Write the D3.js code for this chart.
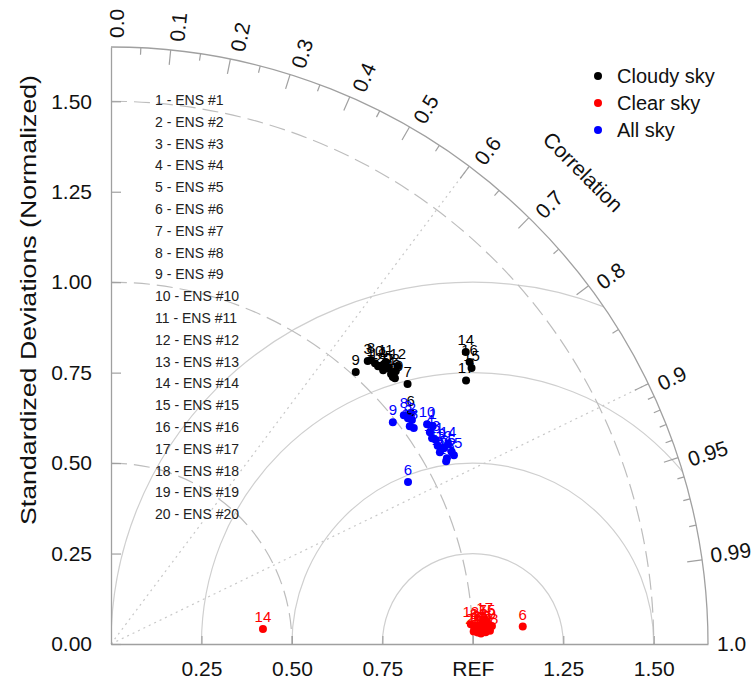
<!DOCTYPE html>
<html>
<head>
<meta charset="utf-8">
<script src="https://cdn.jsdelivr.net/npm/d3@7"></script>
<style>
  body { margin: 0; background: #fff; }
  text { font-family: "Liberation Sans", Arial, Helvetica, sans-serif; }
</style>
</head>
<body>
<svg id="chart" width="756" height="683"></svg>
<script>
// ---- data ----
var ensNumbers = d3.range(1, 21);
var ensNames = ensNumbers.map(function(n) { return n + " - ENS #" + n; });

var cloudyStd  = [1.080, 1.090, 1.056, 1.075, 1.082, 1.046, 1.090, 1.064, 1.011, 1.065,
                  1.088, 1.104, 1.073, 1.270, 1.255, 1.261, 1.222, 1.065, 1.075, 1.067];
var cloudyCorr = [0.698, 0.722, 0.672, 0.720, 0.710, 0.792, 0.752, 0.675, 0.669, 0.685,
                  0.698, 0.718, 0.726, 0.772, 0.794, 0.786, 0.803, 0.693, 0.730, 0.705];

var clearStd   = [1.009, 1.020, 1.032, 1.014, 1.042, 1.139, 1.029, 1.004, 1.054, 1.026,
                  1.036, 0.996, 1.018, 0.422, 1.041, 1.009, 1.035, 1.048, 1.023, 1.003];
var clearCorr  = [0.9990, 0.9993, 0.9988, 0.9995, 0.9991, 0.9991, 0.9983, 0.9988, 0.9989, 0.9991,
                  0.9995, 0.9985, 0.9988, 0.9952, 0.9983, 0.9993, 0.9979, 0.9994, 0.9996, 0.9994];

var allStd     = [1.074, 1.037, 1.031, 1.058, 1.081, 0.935, 1.028, 1.027, 0.991, 1.064,
                  1.060, 1.067, 1.054, 1.083, 1.082, 1.052, 1.061, 1.022, 1.056, 1.055];
var allCorr    = [0.828, 0.802, 0.796, 0.833, 0.871, 0.878, 0.814, 0.788, 0.786, 0.821,
                  0.847, 0.862, 0.842, 0.860, 0.876, 0.864, 0.875, 0.808, 0.855, 0.878];

var groupNames  = ["Cloudy sky", "Clear sky", "All sky"];
var groupColors = ["#000000", "#ff0000", "#0000ff"];
var groupStd    = [cloudyStd, clearStd, allStd];
var groupCorr   = [cloudyCorr, clearCorr, allCorr];

var stdTicks       = [0, 0.25, 0.5, 0.75, 1.0, 1.25, 1.5];
var stdAxisTicks   = [0.25, 0.5, 0.75, 1.0, 1.25, 1.5];
var corrMajor      = [0.1, 0.2, 0.3, 0.4, 0.5, 0.6, 0.7, 0.8, 0.9, 0.95, 0.99];
var corrMinor      = [0.05, 0.15, 0.25, 0.35, 0.45, 0.55, 0.65, 0.75, 0.85,
                      0.91, 0.92, 0.93, 0.94, 0.96, 0.97, 0.98];
var corrLabelVals  = [0.0, 0.1, 0.2, 0.3, 0.4, 0.5, 0.6, 0.7, 0.8, 0.9, 0.95, 0.99, 1.0];
var corrLabelTexts = ["0.0", "0.1", "0.2", "0.3", "0.4", "0.5", "0.6", "0.7", "0.8", "0.9", "0.95", "0.99", "1.0"];
var stdDashed      = [0.5, 1.0, 1.5];
var rmsCircles     = [0.25, 0.5, 0.75, 1.0];
var corrRays       = [0.6, 0.9];
var refStd = 1.0, maxStd = 1.65;

// ---- geometry ----
var ox = 111, oy = 644, R = 597;
var svg = d3.select("#chart");
var rad = d3.scaleLinear().domain([0, maxStd]).range([0, R]);
var xS = d3.scaleLinear().domain([0, maxStd]).range([ox, ox + R]);
var yS = d3.scaleLinear().domain([0, maxStd]).range([oy, oy - R]);

function pos(std, cc) {
  var th = Math.acos(cc);
  return [xS(std * Math.cos(th)), yS(std * Math.sin(th))];
}

function quarter(r) {
  var p = d3.path();
  p.moveTo(ox, oy - r);
  p.arc(ox, oy, r, -Math.PI / 2, 0);
  return p.toString();
}

svg.append("clipPath").attr("id", "quad")
  .append("path")
  .attr("d", function() {
    var p = d3.path();
    p.moveTo(ox, oy);
    p.lineTo(ox, oy - R);
    p.arc(ox, oy, R, -Math.PI / 2, 0);
    p.closePath();
    return p.toString();
  });

// rms circles round REF
svg.append("g").attr("clip-path", "url(#quad)")
  .selectAll("circle").data(rmsCircles).enter().append("circle")
  .attr("cx", xS(refStd)).attr("cy", oy)
  .attr("r", function(d) { return rad(d); })
  .attr("fill", "none").attr("stroke", "#cfcfcf").attr("stroke-width", 1.2);

// dashed std circles
svg.append("g").selectAll("path").data(stdDashed).enter().append("path")
  .attr("d", function(d) { return quarter(rad(d)); })
  .attr("fill", "none").attr("stroke", "#bdbdbd").attr("stroke-width", 1.2)
  .attr("stroke-dasharray", "16,7");

// dotted correlation rays
svg.append("g").selectAll("line").data(corrRays).enter().append("line")
  .attr("x1", ox).attr("y1", oy)
  .attr("x2", function(d) { return pos(maxStd, d)[0]; })
  .attr("y2", function(d) { return pos(maxStd, d)[1]; })
  .attr("stroke", "#c8c8c8").attr("stroke-width", 1.2)
  .attr("stroke-dasharray", "2,4");

// outer arc
svg.append("path").attr("d", quarter(R))
  .attr("fill", "none").attr("stroke", "#a0a0a0").attr("stroke-width", 1.3);

// correlation ticks
function ticks(vals, len) {
  svg.append("g").selectAll("line").data(vals).enter().append("line")
    .attr("x1", function(d) { return pos(maxStd, d)[0]; })
    .attr("y1", function(d) { return pos(maxStd, d)[1]; })
    .attr("x2", function(d) { return pos(maxStd - len / R * maxStd, d)[0]; })
    .attr("y2", function(d) { return pos(maxStd - len / R * maxStd, d)[1]; })
    .attr("stroke", "#a0a0a0").attr("stroke-width", 1.2);
}
ticks(corrMajor, 15);
ticks(corrMinor, 7);

// correlation labels (the last two sit closer to the ray)
svg.append("g").selectAll("text").data(corrLabelVals).enter().append("text")
  .attr("transform", function(d) {
    var p = pos(maxStd + 9 / R * maxStd, d);
    var ang = Math.acos(d) * 180 / Math.PI;
    return "translate(" + p[0] + "," + p[1] + ") rotate(" + (-ang) + ")";
  })
  .attr("dy", function(d) { return d >= 0.99 ? (d === 1 ? "0.35em" : "0.2em") : "0.6em"; })
  .attr("font-size", 21).attr("fill", "#111")
  .text(function(d, i) { return corrLabelTexts[i]; });

svg.append("text")
  .attr("transform", function() {
    var p = pos(1.845, Math.cos(Math.PI / 4));
    return "translate(" + p[0] + "," + p[1] + ") rotate(45)";
  })
  .attr("text-anchor", "middle").attr("dy", "0.35em")
  .attr("font-size", 21).attr("fill", "#111")
  .text("Correlation");

// std axes
var yAxis = d3.axisLeft(yS).tickValues(stdTicks).tickSize(-10).tickSizeOuter(0)
  .tickPadding(19).tickFormat(d3.format(".2f"));
var gy = svg.append("g").attr("transform", "translate(" + ox + ",0)").call(yAxis);

var xAxis = d3.axisBottom(xS).tickValues(stdAxisTicks).tickSize(-8).tickSizeOuter(0)
  .tickPadding(17)
  .tickFormat(function(d) { return d === refStd ? "REF" : d3.format(".2f")(d); });
var gx = svg.append("g").attr("transform", "translate(0," + oy + ")").call(xAxis);

[gx, gy].forEach(function(g) {
  g.select(".domain").attr("stroke", "#a0a0a0").attr("stroke-width", 1.3);
  g.selectAll(".tick line").attr("stroke", "#a0a0a0").attr("stroke-width", 1.2);
  g.selectAll(".tick text").attr("font-size", 21).attr("fill", "#111")
    .style("font-family", "'Liberation Sans', Arial, sans-serif");
});

svg.append("text")
  .attr("transform", "translate(36,300) rotate(-90)")
  .attr("text-anchor", "middle")
  .attr("font-size", 22).attr("fill", "#111")
  .attr("textLength", 450).attr("lengthAdjust", "spacingAndGlyphs")
  .text("Standardized Deviations (Normalized)");

// ensemble list
svg.append("g").selectAll("text").data(ensNames).enter().append("text")
  .attr("x", 155)
  .attr("y", function(d, i) { return 100 + i * 21.8; })
  .attr("dy", "0.35em")
  .attr("font-size", 14).attr("fill", "#222")
  .text(function(d) { return d; });

// points
groupNames.forEach(function(name, g) {
  var pts = ensNumbers.map(function(n, i) {
    var p = pos(groupStd[g][i], groupCorr[g][i]);
    return { n: n, x: p[0], y: p[1] };
  });
  var layer = svg.append("g");
  layer.selectAll("circle").data(pts).enter().append("circle")
    .attr("cx", function(d) { return d.x; })
    .attr("cy", function(d) { return d.y; })
    .attr("r", 4).attr("fill", groupColors[g]);
  layer.selectAll("text").data(pts).enter().append("text")
    .attr("x", function(d) { return d.x; })
    .attr("y", function(d) { return d.y - 7; })
    .attr("text-anchor", "middle")
    .attr("font-size", 15).attr("fill", groupColors[g])
    .text(function(d) { return d.n; });
});

// legend
var legend = svg.append("g").selectAll("g").data(groupNames).enter().append("g")
  .attr("transform", function(d, i) { return "translate(598," + (76 + i * 27) + ")"; });
legend.append("circle").attr("r", 4).attr("fill", function(d, i) { return groupColors[i]; });
legend.append("text").attr("x", 19).attr("dy", "0.35em")
  .attr("font-size", 20).attr("fill", "#111")
  .text(function(d) { return d; });
</script>
</body>
</html>
